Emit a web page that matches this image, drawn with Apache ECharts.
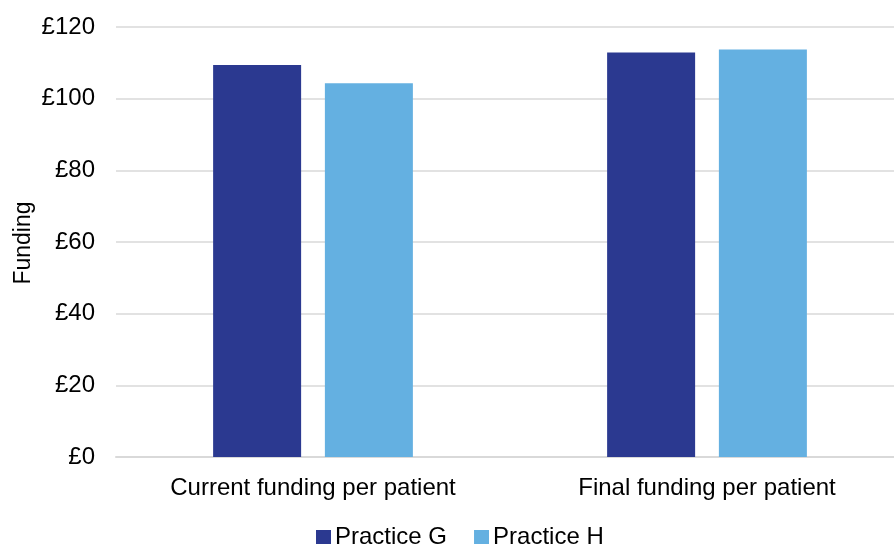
<!DOCTYPE html>
<html>
<head>
<meta charset="utf-8">
<script src="https://cdn.jsdelivr.net/npm/echarts@6/dist/echarts.min.js"></script>
<style>
html,body{margin:0;padding:0;background:#fff;overflow:hidden;width:894px;height:545px;}
#chart{width:904px;height:545px;}
</style>
</head>
<body>
<div id="chart"></div>
<script>
const categories = ['Current funding per patient', 'Final funding per patient'];
const practiceG = [109.4, 112.9];
const practiceH = [104.3, 113.7];
const seriesNames = ['Practice G', 'Practice H'];
const yTicks = [0, 20, 40, 60, 80, 100, 120];
const yAxisTitle = 'Funding';

const FONT = '"Liberation Sans", Arial, sans-serif';
const chart = echarts.init(document.getElementById('chart'), null, {renderer: 'canvas'});
chart.setOption({
  animation: false,
  backgroundColor: '#ffffff',
  textStyle: {fontFamily: FONT, color: '#000'},
  grid: {left: 116, right: 0, top: 27, bottom: 88, containLabel: false, outerBoundsMode: 'none'},
  legend: {
    data: seriesNames,
    bottom: -9,
    left: 311,
    itemWidth: 15,
    itemHeight: 14,
    itemGap: 27,
    icon: 'rect',
    textStyle: {fontFamily: FONT, fontSize: 24, color: '#000', padding: [0, 0, 0, -1]}
  },
  graphic: [{
    type: 'text',
    x: 24,
    y: 243,
    rotation: Math.PI / 2,
    style: {text: yAxisTitle, font: '23px "Liberation Sans", Arial, sans-serif', fill: '#000', align: 'center', verticalAlign: 'middle'}
  }],
  xAxis: {
    type: 'category',
    data: categories,
    axisTick: {show: false},
    axisLine: {lineStyle: {color: '#d9d9d9', width: 2}},
    axisLabel: {fontFamily: FONT, fontSize: 24, color: '#000', margin: 19}
  },
  yAxis: {
    type: 'value',
    min: yTicks[0],
    max: yTicks[yTicks.length - 1],
    interval: 20,
    axisLine: {show: false},
    axisTick: {show: false},
    splitLine: {lineStyle: {color: '#d9d9d9', width: 1.5}},
    axisLabel: {fontFamily: FONT, fontSize: 24, color: '#000', margin: 21, formatter: v => '£' + v}
  },
  series: [
    {name: seriesNames[0], type: 'bar', data: practiceG, barWidth: 88, barGap: '27%', itemStyle: {color: '#2B3990'}},
    {name: seriesNames[1], type: 'bar', data: practiceH, barWidth: 88, barGap: '27%', itemStyle: {color: '#64B0E1'}}
  ]
});
</script>
</body>
</html>
